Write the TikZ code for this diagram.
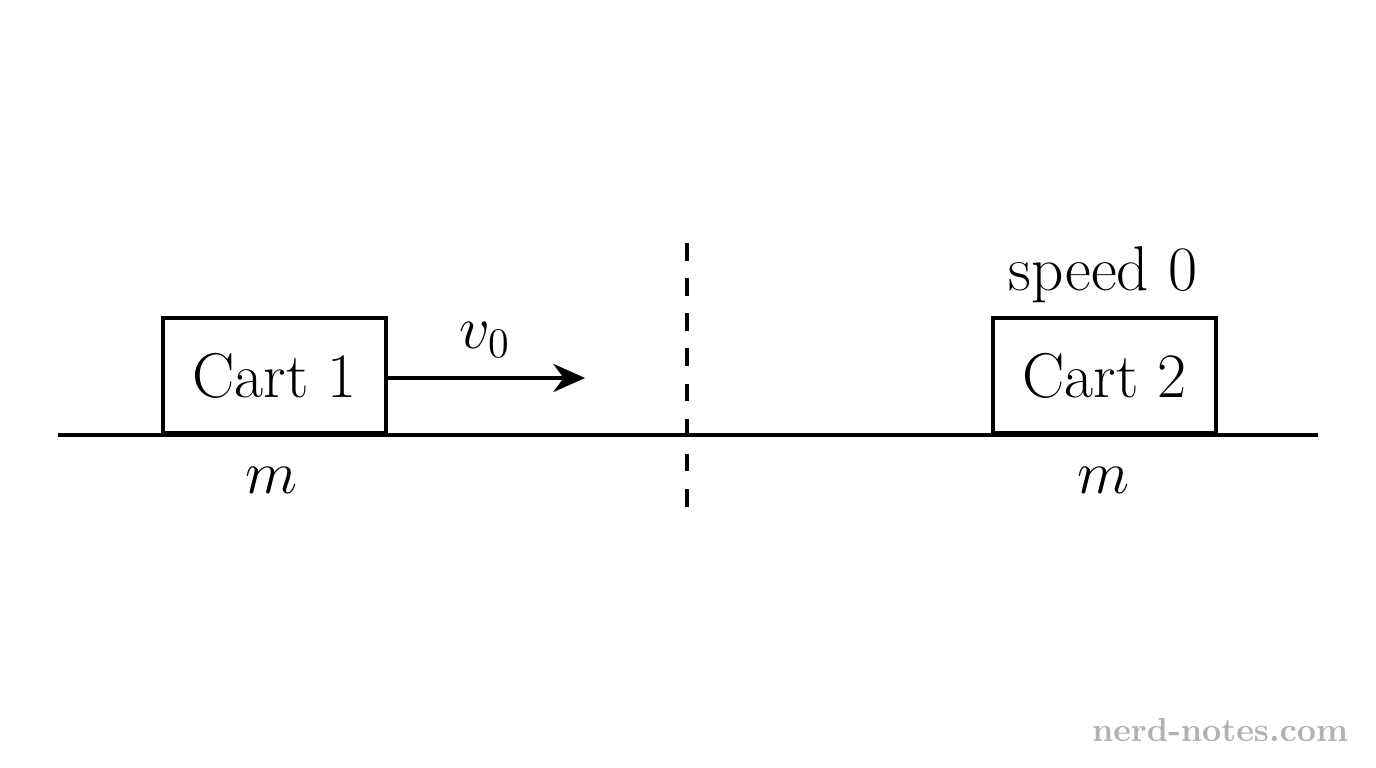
\documentclass[tikz,border=0pt]{standalone}
\usetikzlibrary{arrows.meta}
\begin{document}
\begin{tikzpicture}[x=1cm,y=1cm,
  txt/.style={font=\fontsize{18}{21}\selectfont},
  cart/.style={draw,line width=1.1pt,minimum width=2.23cm,minimum height=1.15cm,inner sep=0pt,anchor=south west,txt}]
\useasboundingbox (0,0) rectangle (13.76,7.68);
\coordinate (g1) at (0.58,3.33); \coordinate (g2) at (13.18,3.33);
\draw[line width=1.1pt] (g1) -- (g2);
\node[cart] (c1) at (1.61,3.33) {Cart 1};
\node[cart] (c2) at (9.91,3.33) {Cart 2};
\coordinate (ae) at (5.85,3.90);
\draw[line width=1.1pt,-{Stealth[length=9pt,width=8pt]}] (c1.east |- ae) -- (ae);
\node[txt] (v) at (4.85,4.28) {$v_0$};
\coordinate (d1) at (6.87,5.25); \coordinate (d2) at (6.87,2.46);
\draw[line width=1.1pt,dash pattern=on 5pt off 5pt] (d1) -- (d2);
\node[txt] (m1) at (2.72,2.88) {$m$};
\node[txt] (m2) at (11.04,2.88) {$m$};
\node[txt] (s) at (11.03,4.93) {speed 0};
\node[font=\fontsize{9.5}{11}\selectfont\bfseries,text=black!30] (w) at (12.2,0.38) {nerd-notes.com};
\end{tikzpicture}
\end{document}
